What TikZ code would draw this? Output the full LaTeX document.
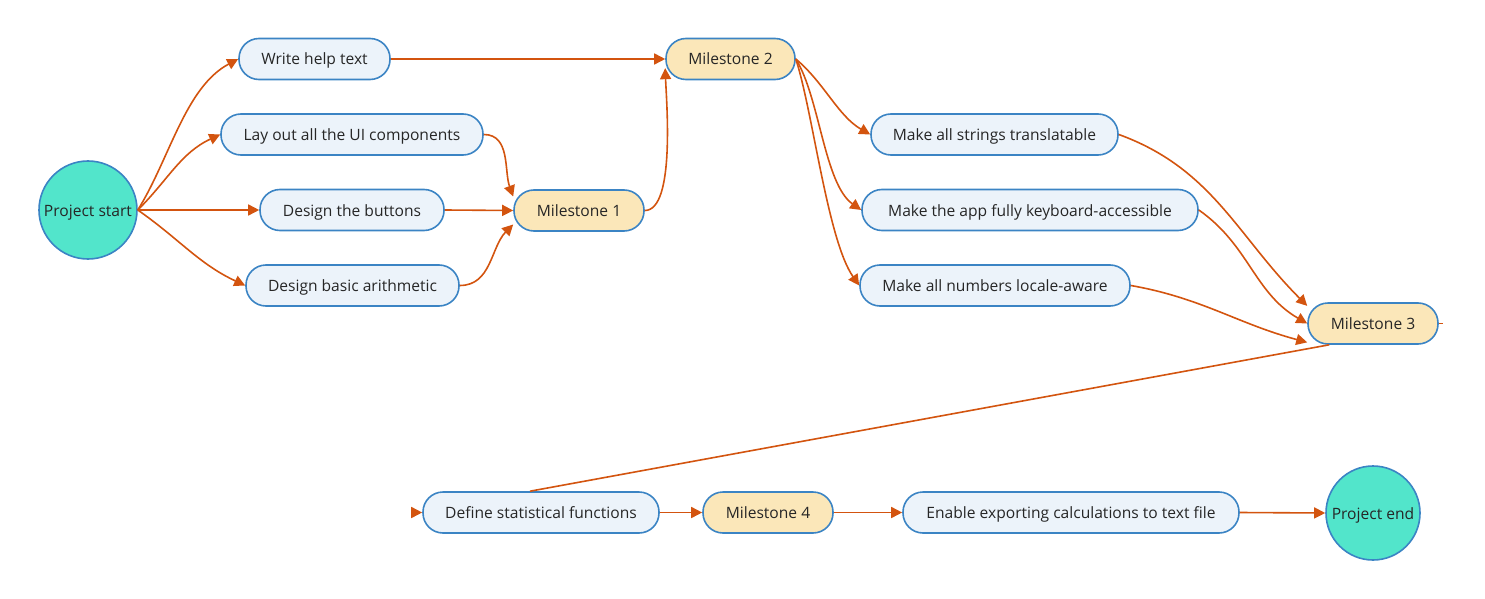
\documentclass[tikz,border=0pt]{standalone}
\usepackage{fontspec}
\setmainfont{Open Sans}
\usetikzlibrary{arrows.meta,calc}
\definecolor{taskfill}{HTML}{ECF3FA}
\definecolor{bordc}{HTML}{3B84C4}
\definecolor{msfill}{HTML}{FBE7B9}
\definecolor{circfill}{HTML}{52E5CB}
\definecolor{arrc}{HTML}{D3540F}
\tikzset{
  box/.style={draw=bordc, line width=1.6pt, rounded corners=20pt, minimum height=41pt, inner sep=0pt, text height=14pt, text depth=2pt, font=\fontsize{15.6}{18}\selectfont, text=black!85},
  task/.style={box, fill=taskfill},
  mstone/.style={box, fill=msfill},
  term/.style={circle, draw=bordc, line width=1.6pt, fill=circfill, inner sep=0pt, text height=14pt, text depth=2pt, font=\fontsize{15.6}{18}\selectfont, text=black!85},
  arr/.style={draw=arrc, line width=1.6pt, -{Triangle[length=11pt,width=11pt]}},
  ln/.style={draw=arrc, line width=1.6pt},
}
\begin{document}
\begin{tikzpicture}[x=1pt,y=-1pt]
\useasboundingbox (0,0) rectangle (1485,599);
% nodes
\node[term, minimum size=98pt] (start) at (88,210) {Project start};
\node[task, minimum width=151pt] (write) at (314.5,59) {Write help text};
\node[task, minimum width=262pt] (layout) at (352,134.5) {Lay out all the UI components};
\node[task, minimum width=184pt] (buttons) at (352,210) {Design the buttons};
\node[task, minimum width=213pt] (arith) at (352.5,285.5) {Design basic arithmetic};
\node[mstone, minimum width=130pt] (m1) at (579,210.5) {Milestone 1};
\node[mstone, minimum width=129pt] (m2) at (730.5,59) {Milestone 2};
\node[task, minimum width=247pt] (strings) at (994.5,134.5) {Make all strings translatable};
\node[task, minimum width=336pt] (keyb) at (1030,210) {Make the app fully keyboard-accessible};
\node[task, minimum width=270pt] (locale) at (995,285.5) {Make all numbers locale-aware};
\node[mstone, minimum width=130pt] (m3) at (1373,323.5) {Milestone 3};
\node[task, minimum width=236pt] (stats) at (541,512.5) {Define statistical functions};
\node[mstone, minimum width=130pt] (m4) at (768,512.5) {Milestone 4};
\node[task, minimum width=336pt] (export) at (1071,512.5) {Enable exporting calculations to text file};
\node[term, minimum size=94pt] (end) at (1373,513) {Project end};
% connectors
\draw[arr] (start.east) to[out=58,in=208,looseness=0.85] (write.west);
\draw[arr] (start.east) to[out=45,in=205] (layout.west);
\draw[arr] (start.east) -- (buttons.west);
\draw[arr] (start.east) to[out=-35,in=155] (arith.west);
\draw[arr] (layout.east) to[out=0,in=110] (m1.168);
\draw[arr] (buttons.east) -- (m1.west);
\draw[arr] (arith.east) to[out=0,in=225] (m1.192);
\draw[arr] (write.east) -- (m2.west);
\draw[arr] (m1.east) to[out=0,in=-88,looseness=0.55] (m2.188);
\draw[arr] (m2.east) to[out=-40,in=150,looseness=0.9] (strings.west);
\draw[arr] (m2.east) to[out=-58,in=145,looseness=0.7] (keyb.west);
\draw[arr] (m2.east) to[out=-72,in=125,looseness=0.6] (locale.west);
\draw[arr] (strings.east) to[out=-20,in=135] (m3.165);
\draw[arr] (keyb.east) to[out=-35,in=150] (m3.west);
\draw[arr] (locale.east) to[out=-10,in=165] (m3.196);
\draw[ln] ($(m3.south west)+(22,0)$) -- ($(stats.north)+(-11,0)$);
\draw[ln] (m3.east) -- ++(4,0);
\draw[arr] ($(stats.west)+(-10,0)$) -- (stats.west);
\draw[arr] (stats.east) -- (m4.west);
\draw[arr] (m4.east) -- (export.west);
\draw[arr] (export.east) -- (end.west);
\end{tikzpicture}
\end{document}
